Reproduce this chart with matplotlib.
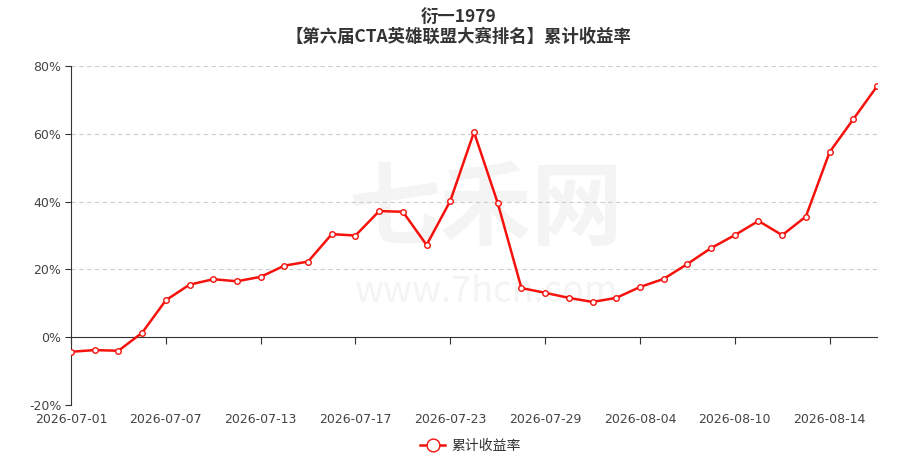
import matplotlib
matplotlib.use("Agg")
import matplotlib.pyplot as plt
import numpy as np

plt.rcParams['font.family'] = ['Noto Sans CJK SC', 'DejaVu Sans']

# trading days
dates = ["2026-07-01", "2026-07-02", "2026-07-03", "2026-07-06", "2026-07-07",
         "2026-07-08", "2026-07-09", "2026-07-10", "2026-07-13", "2026-07-14",
         "2026-07-15", "2026-07-16", "2026-07-17", "2026-07-20", "2026-07-21",
         "2026-07-22", "2026-07-23", "2026-07-24", "2026-07-27", "2026-07-28",
         "2026-07-29", "2026-07-30", "2026-07-31", "2026-08-03", "2026-08-04",
         "2026-08-05", "2026-08-06", "2026-08-07", "2026-08-10", "2026-08-11",
         "2026-08-12", "2026-08-13", "2026-08-14", "2026-08-17", "2026-08-18"]

# cumulative return, %
returns = [-4.3, -3.8, -4.0, 1.3, 10.9, 15.5, 17.1, 16.5, 17.8, 21.1,
           22.3, 30.4, 30.0, 37.2, 37.0, 27.2, 40.2, 60.5, 39.6, 14.5,
           13.1, 11.6, 10.4, 11.6, 14.8, 17.2, 21.6, 26.3, 30.1, 34.3,
           30.1, 35.6, 54.6, 64.3, 74.0]

yticks = [-20, 0, 20, 40, 60, 80]
label_step = 4

title = "衍一1979\n【第六届CTA英雄联盟大赛排名】累计收益率"
series_name = "累计收益率"

tick_font = ['DejaVu Sans']

fig = plt.figure(figsize=(9.17, 4.63), dpi=100)

# watermark
fig.text(0.53, 0.545, "七禾网", fontsize=66, color="#f4f4f4", ha="center",
         va="center", fontweight="bold", zorder=0)
fig.text(0.53, 0.37, "www.7hcn.com", fontsize=26, color="#f4f4f4",
         ha="center", va="center", zorder=0)

ax = fig.add_axes([71/917, 1-405/463, (877-71)/917, (405-66)/463])
ax.set_zorder(2)
ax.patch.set_alpha(0)

x = np.arange(len(dates))

ax.plot(x, returns, color="#f5120c", lw=1.8, marker="o", markersize=4,
        markerfacecolor="white", markeredgecolor="#f5120c",
        markeredgewidth=1.0, label=series_name, zorder=3)

ax.set_xlim(0, len(dates) - 1)
ax.set_ylim(-20, 80)
ax.set_yticks(yticks)
ax.set_yticklabels([f"{v}%" for v in yticks], family=tick_font)
for v in yticks:
    if v != 0:
        ax.axhline(v, color="#cccccc", lw=0.8, ls=(0, (4, 3)), zorder=1)

for s in ["top", "right"]:
    ax.spines[s].set_visible(False)
ax.spines["left"].set_color("#333333")
ax.spines["bottom"].set_position(("data", 0))
ax.spines["bottom"].set_color("#333333")
ax.spines["bottom"].set_zorder(2)

ticks = x[::label_step]
ax.set_xticks(ticks)
ax.tick_params(axis="x", direction="out", length=5, color="#333333",
               labelbottom=False)
ax.tick_params(axis="y", direction="out", length=4, color="#333333",
               labelsize=9, labelcolor="#444444", pad=3)

sec = ax.secondary_xaxis("bottom")
sec.set_xticks(ticks)
sec.set_xticklabels([dates[i] for i in ticks], family=tick_font)
sec.spines["bottom"].set_visible(False)
sec.tick_params(length=0, labelsize=9, labelcolor="#444444", pad=6)

fig.suptitle(title, fontsize=12.5, fontweight="bold", color="#333333",
             y=0.983, linespacing=1.15)

leg = fig.legend(loc="lower center", bbox_to_anchor=(0.513, -0.005),
                 frameon=False, fontsize=10, handlelength=1.8,
                 handletextpad=0.4, markerscale=2.3)
for t in leg.get_texts():
    t.set_color("#333333")

fig.savefig("out.png", dpi=100)
